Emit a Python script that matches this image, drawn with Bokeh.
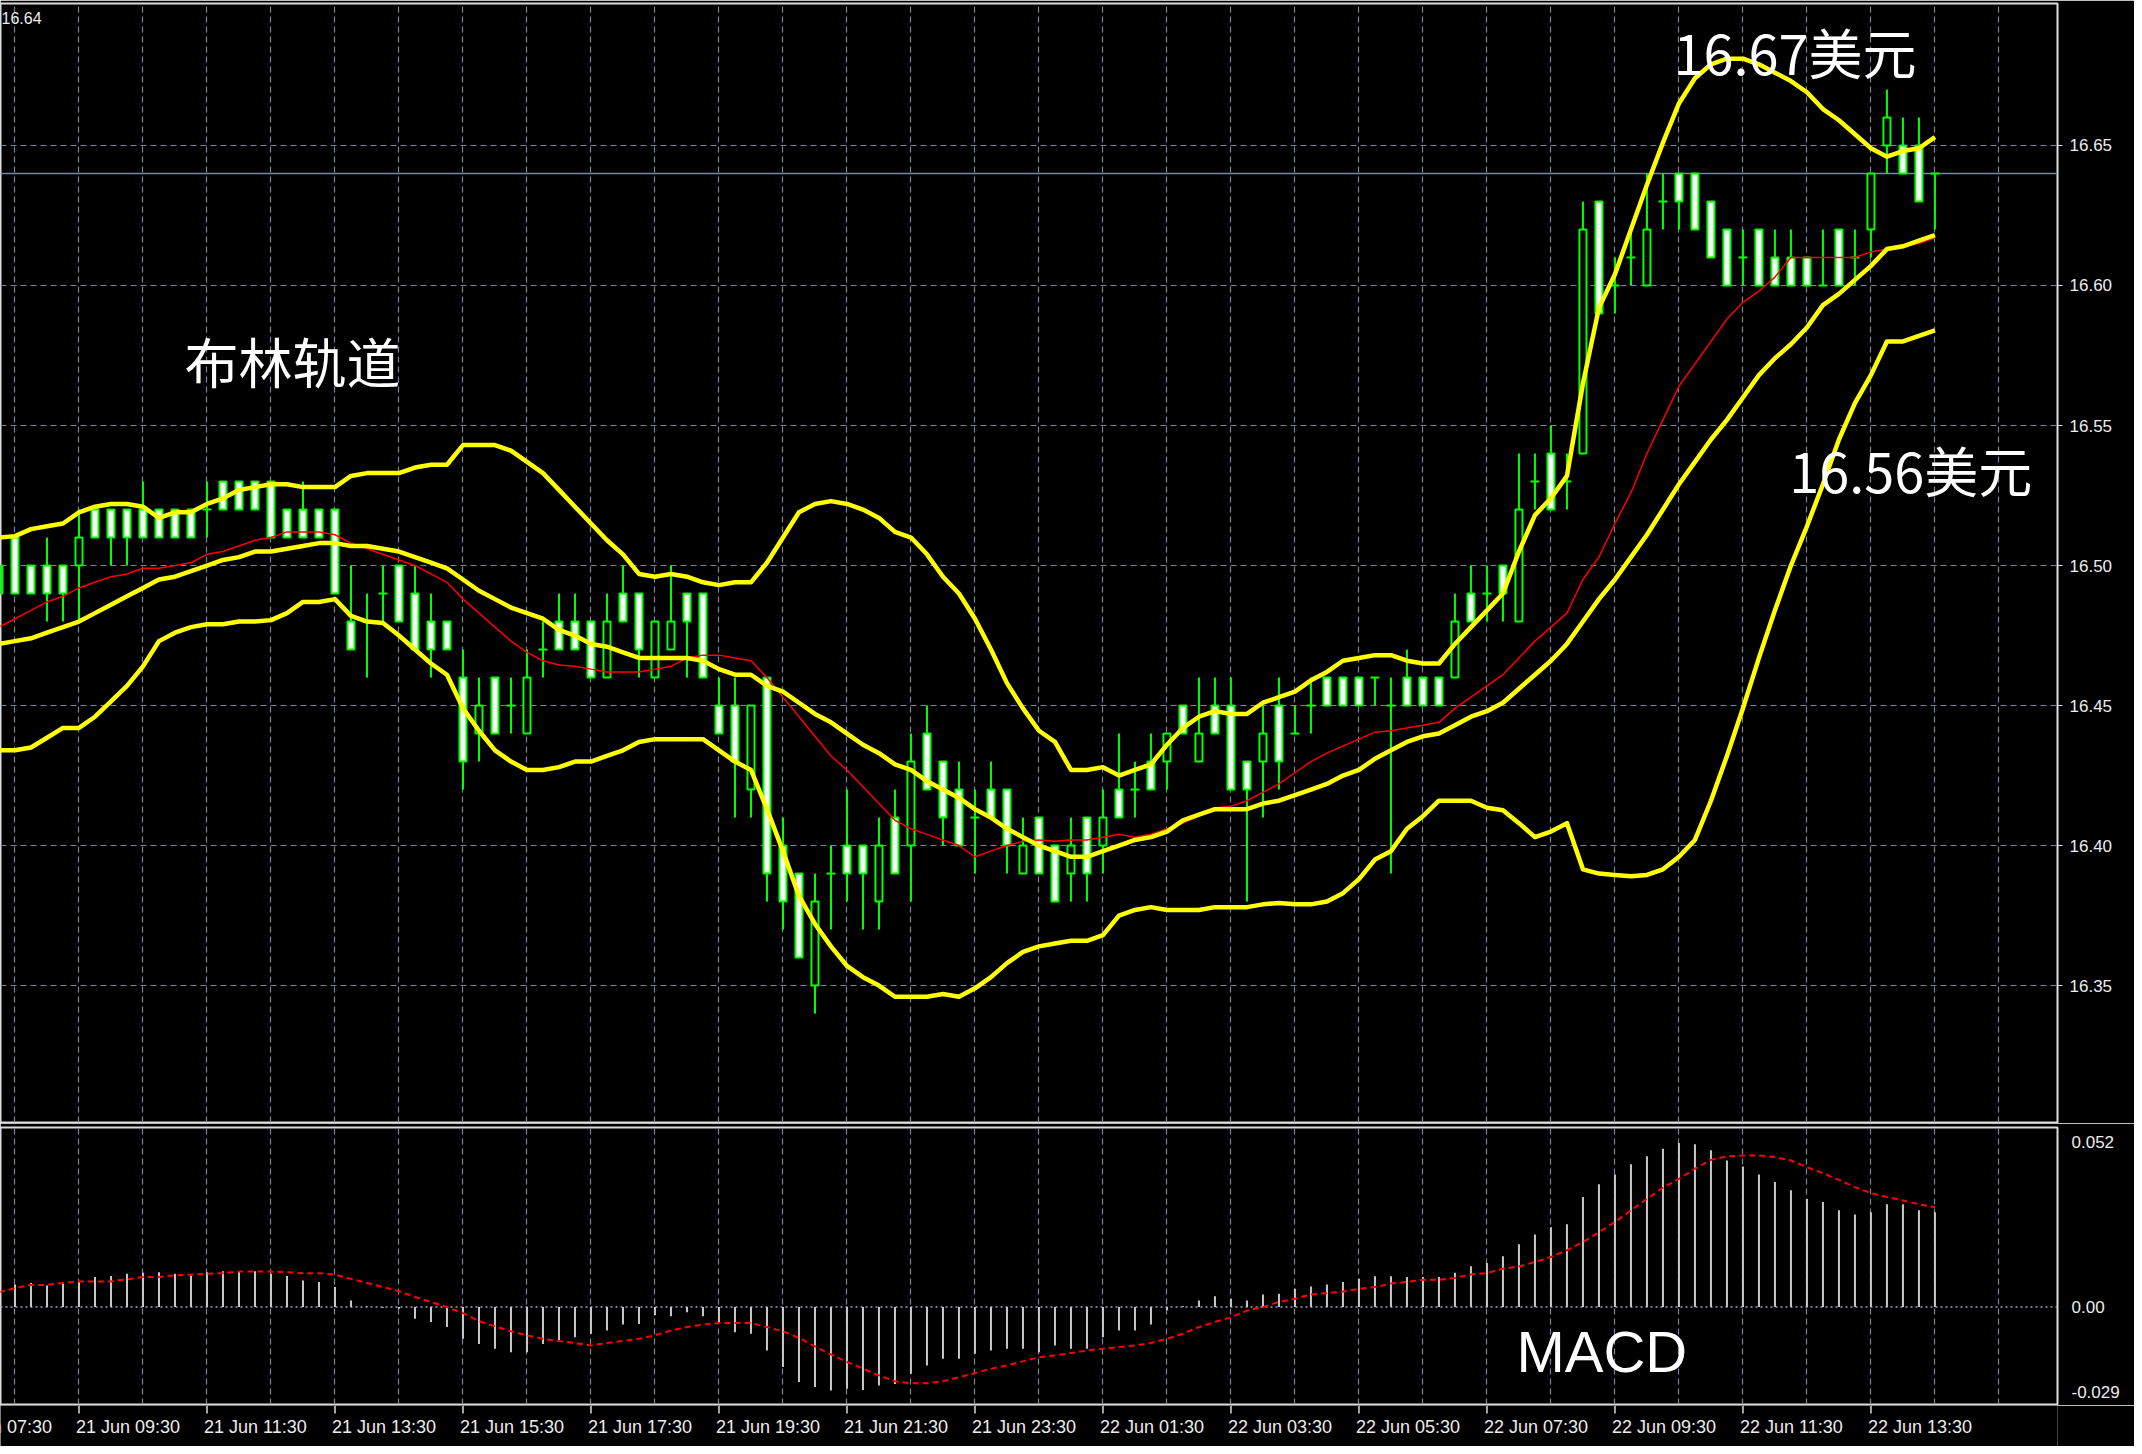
from bokeh.plotting import figure
from bokeh.layouts import column
from bokeh.models import (FixedTicker, Label, Range1d, Span, Grid,
                          PrintfTickFormatter)
from bokeh.core.properties import value
from bokeh.embed import file_html
from bokeh.resources import INLINE

# ---------------- data (15-minute bars, index 0 = 21 Jun 09:30) ----------------
FIRST_BAR = -5

opens = [16.49, 16.51, 16.50, 16.50, 16.50, 16.50, 16.52, 16.52, 16.52, 16.52,
         16.52, 16.52, 16.52, 16.52, 16.53, 16.53, 16.53, 16.53, 16.52, 16.52,
         16.52, 16.52, 16.48, 16.48, 16.49, 16.50, 16.49, 16.48, 16.48, 16.46,
         16.44, 16.46, 16.45, 16.44, 16.47, 16.48, 16.48, 16.48, 16.46, 16.49,
         16.49, 16.46, 16.47, 16.49, 16.49, 16.45, 16.45, 16.42, 16.46, 16.40,
         16.39, 16.35, 16.39, 16.40, 16.40, 16.38, 16.41, 16.40, 16.44, 16.43,
         16.42, 16.41, 16.42, 16.42, 16.39, 16.41, 16.40, 16.39, 16.41, 16.40,
         16.42, 16.42, 16.43, 16.43, 16.45, 16.43, 16.45, 16.45, 16.43, 16.43,
         16.45, 16.44, 16.45, 16.46, 16.46, 16.46, 16.46, 16.45, 16.46, 16.46,
         16.46, 16.46, 16.49, 16.49, 16.50, 16.48, 16.53, 16.54, 16.53, 16.54,
         16.63, 16.60, 16.61, 16.60, 16.63, 16.64, 16.64, 16.63, 16.62, 16.61,
         16.62, 16.61, 16.61, 16.61, 16.60, 16.62, 16.61, 16.62, 16.65, 16.65,
         16.65, 16.64]
highs = [16.50, 16.51, 16.50, 16.51, 16.50, 16.52, 16.52, 16.52, 16.52, 16.53,
         16.52, 16.52, 16.52, 16.53, 16.53, 16.53, 16.53, 16.53, 16.52, 16.53,
         16.52, 16.52, 16.50, 16.49, 16.50, 16.50, 16.50, 16.49, 16.48, 16.47,
         16.46, 16.46, 16.46, 16.47, 16.48, 16.49, 16.49, 16.48, 16.49, 16.50,
         16.49, 16.48, 16.50, 16.49, 16.49, 16.46, 16.46, 16.45, 16.46, 16.41,
         16.39, 16.39, 16.40, 16.42, 16.40, 16.41, 16.42, 16.44, 16.45, 16.43,
         16.43, 16.42, 16.43, 16.42, 16.41, 16.41, 16.40, 16.41, 16.41, 16.42,
         16.44, 16.43, 16.44, 16.44, 16.45, 16.46, 16.46, 16.46, 16.43, 16.45,
         16.46, 16.45, 16.46, 16.46, 16.46, 16.46, 16.46, 16.46, 16.47, 16.46,
         16.46, 16.49, 16.50, 16.50, 16.50, 16.54, 16.54, 16.55, 16.54, 16.63,
         16.63, 16.61, 16.62, 16.64, 16.64, 16.64, 16.64, 16.63, 16.62, 16.62,
         16.62, 16.62, 16.62, 16.61, 16.62, 16.62, 16.62, 16.64, 16.67, 16.66,
         16.66, 16.64]
lows = [16.48, 16.49, 16.49, 16.48, 16.48, 16.48, 16.51, 16.50, 16.50, 16.51,
        16.51, 16.51, 16.51, 16.51, 16.52, 16.52, 16.52, 16.51, 16.51, 16.51,
        16.51, 16.49, 16.47, 16.46, 16.48, 16.48, 16.47, 16.46, 16.47, 16.42,
        16.43, 16.44, 16.44, 16.44, 16.46, 16.47, 16.47, 16.46, 16.46, 16.48,
        16.46, 16.46, 16.47, 16.46, 16.46, 16.44, 16.41, 16.41, 16.38, 16.37,
        16.36, 16.34, 16.37, 16.38, 16.37, 16.37, 16.39, 16.38, 16.42, 16.40,
        16.40, 16.39, 16.41, 16.39, 16.39, 16.39, 16.38, 16.38, 16.38, 16.39,
        16.41, 16.41, 16.42, 16.42, 16.44, 16.43, 16.44, 16.42, 16.38, 16.41,
        16.42, 16.44, 16.44, 16.45, 16.45, 16.45, 16.45, 16.39, 16.45, 16.45,
        16.45, 16.46, 16.48, 16.48, 16.48, 16.48, 16.52, 16.52, 16.52, 16.54,
        16.59, 16.59, 16.60, 16.60, 16.62, 16.62, 16.62, 16.61, 16.60, 16.60,
        16.60, 16.60, 16.60, 16.60, 16.60, 16.60, 16.60, 16.61, 16.64, 16.64,
        16.63, 16.62]
closes = [16.50, 16.49, 16.49, 16.49, 16.49, 16.51, 16.51, 16.51, 16.51, 16.51,
          16.51, 16.51, 16.51, 16.52, 16.52, 16.52, 16.52, 16.51, 16.51, 16.51,
          16.51, 16.49, 16.47, 16.48, 16.49, 16.48, 16.47, 16.47, 16.47, 16.43,
          16.45, 16.44, 16.45, 16.46, 16.47, 16.47, 16.47, 16.46, 16.48, 16.48,
          16.47, 16.48, 16.48, 16.48, 16.46, 16.44, 16.43, 16.45, 16.39, 16.38,
          16.36, 16.38, 16.39, 16.39, 16.39, 16.40, 16.39, 16.43, 16.42, 16.41,
          16.40, 16.41, 16.41, 16.40, 16.40, 16.39, 16.38, 16.40, 16.39, 16.41,
          16.41, 16.42, 16.42, 16.44, 16.44, 16.44, 16.44, 16.42, 16.42, 16.44,
          16.43, 16.44, 16.45, 16.45, 16.45, 16.45, 16.46, 16.45, 16.45, 16.45,
          16.45, 16.48, 16.48, 16.49, 16.49, 16.52, 16.53, 16.52, 16.53, 16.62,
          16.59, 16.60, 16.61, 16.62, 16.63, 16.63, 16.62, 16.61, 16.60, 16.61,
          16.60, 16.60, 16.60, 16.60, 16.60, 16.60, 16.61, 16.64, 16.66, 16.64,
          16.63, 16.64]

bb_upper = [16.510, 16.5105, 16.513, 16.514, 16.515, 16.519, 16.521, 16.522, 16.522, 16.521,
            16.517, 16.519, 16.519, 16.522, 16.524, 16.527, 16.528, 16.529, 16.529, 16.528,
            16.528, 16.528, 16.532, 16.533, 16.533, 16.533, 16.535, 16.536, 16.536, 16.543,
            16.543, 16.543, 16.541, 16.537, 16.533, 16.527, 16.521, 16.515, 16.509, 16.504,
            16.497, 16.496, 16.497, 16.496, 16.494, 16.493, 16.494, 16.494, 16.501, 16.510,
            16.519, 16.522, 16.523, 16.522, 16.520, 16.517, 16.512, 16.510, 16.504, 16.496,
            16.490, 16.481, 16.470, 16.458, 16.449, 16.441, 16.437, 16.427, 16.427, 16.428,
            16.425, 16.427, 16.429, 16.436, 16.442, 16.446, 16.448, 16.447, 16.447, 16.451,
            16.453, 16.455, 16.459, 16.462, 16.466, 16.467, 16.468, 16.468, 16.466, 16.465,
            16.465, 16.472, 16.478, 16.484, 16.490, 16.505, 16.518, 16.524, 16.532, 16.565,
            16.592, 16.604, 16.620, 16.636, 16.651, 16.665, 16.674, 16.679, 16.681, 16.681,
            16.679, 16.676, 16.673, 16.669, 16.663, 16.659, 16.654, 16.649, 16.646, 16.648,
            16.649, 16.653]
bb_middle = [16.472, 16.473, 16.474, 16.476, 16.478, 16.480, 16.483, 16.486, 16.489, 16.492,
             16.495, 16.496, 16.498, 16.500, 16.502, 16.503, 16.505, 16.505, 16.506, 16.507,
             16.508, 16.508, 16.507, 16.507, 16.506, 16.505, 16.503, 16.501, 16.499, 16.495,
             16.491, 16.488, 16.485, 16.483, 16.481, 16.477, 16.475, 16.472, 16.471, 16.469,
             16.467, 16.467, 16.467, 16.467, 16.466, 16.463, 16.461, 16.461, 16.457, 16.455,
             16.451, 16.447, 16.444, 16.440, 16.436, 16.433, 16.429, 16.427, 16.423, 16.420,
             16.417, 16.413, 16.410, 16.406, 16.403, 16.400, 16.398, 16.396, 16.396, 16.398,
             16.400, 16.402, 16.403, 16.405, 16.409, 16.411, 16.413, 16.413, 16.413, 16.415,
             16.416, 16.418, 16.420, 16.422, 16.425, 16.427, 16.431, 16.434, 16.437, 16.439,
             16.440, 16.443, 16.446, 16.448, 16.451, 16.456, 16.461, 16.466, 16.472, 16.480,
             16.488, 16.495, 16.503, 16.511, 16.520, 16.529, 16.537, 16.545, 16.552, 16.560,
             16.568, 16.574, 16.579, 16.585, 16.593, 16.597, 16.602, 16.607, 16.613, 16.614,
             16.616, 16.618]
bb_lower = [16.434, 16.434, 16.435, 16.4385, 16.442, 16.442, 16.446, 16.4515, 16.457, 16.464,
            16.473, 16.476, 16.478, 16.479, 16.479, 16.480, 16.480, 16.4805, 16.483, 16.487,
            16.487, 16.488, 16.482, 16.480, 16.4795, 16.475, 16.470, 16.465, 16.461, 16.449,
            16.441, 16.434, 16.430, 16.427, 16.427, 16.428, 16.430, 16.430, 16.432, 16.434,
            16.437, 16.438, 16.438, 16.438, 16.438, 16.434, 16.430, 16.427, 16.413, 16.398,
            16.382, 16.372, 16.364, 16.357, 16.353, 16.350, 16.346, 16.346, 16.346, 16.347,
            16.346, 16.349, 16.353, 16.358, 16.362, 16.364, 16.365, 16.366, 16.366, 16.368,
            16.375, 16.377, 16.378, 16.377, 16.377, 16.377, 16.378, 16.378, 16.378, 16.379,
            16.3795, 16.379, 16.379, 16.380, 16.383, 16.388, 16.395, 16.398, 16.406, 16.4105,
            16.416, 16.416, 16.416, 16.4135, 16.4126, 16.408, 16.403, 16.405, 16.408, 16.3915,
            16.390, 16.3895, 16.389, 16.3895, 16.3915, 16.396, 16.402, 16.416, 16.432, 16.449,
            16.467, 16.484, 16.500, 16.514, 16.529, 16.545, 16.558, 16.568, 16.580, 16.580,
            16.582, 16.584]
ma_red = [16.478, 16.481, 16.484, 16.487, 16.489, 16.492, 16.494, 16.496, 16.497, 16.499,
          16.499, 16.500, 16.501, 16.504, 16.505, 16.507, 16.509, 16.510, 16.512, 16.512,
          16.512, 16.511, 16.508, 16.506, 16.504, 16.502, 16.500, 16.497, 16.494, 16.488,
          16.483, 16.478, 16.473, 16.469, 16.466, 16.4645, 16.464, 16.463, 16.462, 16.462,
          16.462, 16.463, 16.464, 16.467, 16.468, 16.468, 16.467, 16.466, 16.460, 16.453,
          16.446, 16.439, 16.432, 16.427, 16.421, 16.415, 16.409, 16.406, 16.404, 16.402,
          16.400, 16.396, 16.398, 16.400, 16.4015, 16.402, 16.4015, 16.402, 16.402, 16.403,
          16.404, 16.403, 16.404, 16.406, 16.408, 16.4105, 16.4135, 16.414, 16.416, 16.419,
          16.422, 16.426, 16.430, 16.433, 16.4355, 16.438, 16.4405, 16.441, 16.442, 16.443,
          16.444, 16.449, 16.453, 16.457, 16.461, 16.467, 16.473, 16.478, 16.483, 16.495,
          16.503, 16.515, 16.526, 16.540, 16.552, 16.564, 16.572, 16.580, 16.588, 16.594,
          16.598, 16.603, 16.610, 16.610, 16.610, 16.610, 16.610, 16.612, 16.613, 16.614,
          16.615, 16.617]

macd_hist = [0.0074, 0.0071, 0.0076, 0.0068, 0.0076, 0.0081, 0.0095, 0.0098, 0.0105, 0.0108,
             0.0110, 0.0105, 0.0100, 0.0110, 0.0113, 0.0113, 0.0113, 0.0105, 0.0098, 0.0084,
             0.0079, 0.0063, 0.0021, 0.0002, -0.0002, -0.0005, -0.0037, -0.0047, -0.0063, -0.0100,
             -0.0116, -0.0131, -0.0142, -0.0142, -0.0116, -0.0105, -0.0095, -0.0084, -0.0074, -0.0055,
             -0.0053, -0.0026, -0.0029, -0.0016, -0.0029, -0.0047, -0.0079, -0.0084, -0.0137, -0.0189,
             -0.0236, -0.0252, -0.0263, -0.0257, -0.0261, -0.0247, -0.0242, -0.0210, -0.0184, -0.0163,
             -0.0163, -0.0147, -0.0137, -0.0131, -0.0131, -0.0142, -0.0121, -0.0131, -0.0131, -0.0095,
             -0.0074, -0.0074, -0.0055, -0.0010, 0.0003, 0.0021, 0.0034, 0.0026, 0.0021, 0.0040,
             0.0042, 0.0058, 0.0065, 0.0071, 0.0079, 0.0089, 0.0097, 0.0097, 0.0095, 0.0095,
             0.0095, 0.0108, 0.0129, 0.0139, 0.0160, 0.0198, 0.0229, 0.0252, 0.0261, 0.0347,
             0.0387, 0.0418, 0.0450, 0.0475, 0.0499, 0.0517, 0.0513, 0.0494, 0.0462, 0.0443,
             0.0418, 0.0394, 0.0368, 0.0341, 0.0331, 0.0305, 0.0292, 0.0299, 0.0324, 0.0324,
             0.0305, 0.0299]
macd_signal = [0.0047, 0.0060, 0.0070, 0.0070, 0.0076, 0.0081, 0.0081, 0.0081, 0.0087, 0.0095,
               0.0095, 0.0100, 0.0102, 0.0105, 0.0107, 0.0112, 0.0112, 0.0112, 0.0110, 0.0107,
               0.0107, 0.0102, 0.0089, 0.0076, 0.0063, 0.0050, 0.0032, 0.0016, 0.0000, -0.0019,
               -0.0044, -0.0061, -0.0076, -0.0089, -0.0100, -0.0107, -0.0113, -0.0121, -0.0113, -0.0107,
               -0.0100, -0.0089, -0.0074, -0.0063, -0.0055, -0.0050, -0.0050, -0.0050, -0.0063, -0.0076,
               -0.0097, -0.0124, -0.0149, -0.0173, -0.0194, -0.0215, -0.0234, -0.0240, -0.0240, -0.0234,
               -0.0221, -0.0208, -0.0194, -0.0184, -0.0171, -0.0158, -0.0152, -0.0145, -0.0137, -0.0131,
               -0.0126, -0.0121, -0.0113, -0.0100, -0.0084, -0.0063, -0.0047, -0.0032, -0.0011, 0.0000,
               0.0016, 0.0026, 0.0040, 0.0044, 0.0049, 0.0057, 0.0063, 0.0074, 0.0079, 0.0086,
               0.0086, 0.0092, 0.0103, 0.0107, 0.0121, 0.0128, 0.0142, 0.0158, 0.0179, 0.0205,
               0.0236, 0.0268, 0.0305, 0.0341, 0.0376, 0.0404, 0.0436, 0.0464, 0.0475, 0.0478,
               0.0478, 0.0473, 0.0462, 0.0441, 0.0422, 0.0401, 0.0378, 0.0359, 0.0347, 0.0336,
               0.0324, 0.0315]

price_ticks = [16.35, 16.40, 16.45, 16.50, 16.55, 16.60, 16.65]
current_price = 16.64
time_tick_bars = [-8, 0, 8, 16, 24, 32, 40, 48, 56, 64, 72, 80, 88, 96, 104, 112]
time_labels = ["21 Jun 07:30", "21 Jun 09:30", "21 Jun 11:30", "21 Jun 13:30",
               "21 Jun 15:30", "21 Jun 17:30", "21 Jun 19:30", "21 Jun 21:30",
               "21 Jun 23:30", "22 Jun 01:30", "22 Jun 03:30", "22 Jun 05:30",
               "22 Jun 07:30", "22 Jun 09:30", "22 Jun 11:30", "22 Jun 13:30"]
macd_ticks = [0.052, 0.0, -0.0268]
macd_tick_labels = ["0.052", "0.00", "-0.029"]

# ---------------- styling ----------------
GRID = "#778899"
EDGE = "#dcdcdc"
TXT = "#ececec"
LIME = "#00ff00"
YELLOW = "#ffff00"
AXFONT = "Liberation Sans"
CJK = "Noto Sans CJK SC"

idx = list(range(FIRST_BAR, FIRST_BAR + len(opens)))
X_RANGE = Range1d(-4.906, 123.66)
MACD_RANGE = Range1d(-0.0307, 0.0566)
hour_grid = list(range(-4, 124, 4))

p = figure(width=2134, height=1123, x_range=X_RANGE, y_range=Range1d(16.3011, 16.7007),
           output_backend="svg", toolbar_location=None, x_axis_location=None,
           y_axis_location="right", background_fill_color="black",
           border_fill_color="black", min_border_left=0, min_border_top=3,
           min_border_bottom=1, min_border_right=77)
p.outline_line_color = EDGE
p.outline_line_width = 2
p.grid.visible = False
p.add_layout(Grid(dimension=0, ticker=FixedTicker(ticks=hour_grid), grid_line_color=GRID,
                  grid_line_dash="6 4", grid_line_width=1.2), "center")
p.add_layout(Grid(dimension=1, ticker=FixedTicker(ticks=price_ticks), grid_line_color=GRID,
                  grid_line_dash="6 4", grid_line_width=1.2), "center")

ya = p.yaxis[0]
ya.ticker = FixedTicker(ticks=price_ticks)
ya.formatter = PrintfTickFormatter(format="%.2f")
ya.axis_line_color = None
ya.major_tick_line_color = EDGE
ya.major_tick_out = 5
ya.major_tick_in = 0
ya.minor_tick_line_color = None
ya.major_label_text_color = TXT
ya.major_label_text_font = AXFONT
ya.major_label_text_font_size = "17px"
ya.major_label_standoff = 7

p.add_layout(Span(location=current_price, dimension="width", line_color=GRID,
                  line_width=1.5, level="underlay"))

# candles
p.segment(x0=idx, y0=lows, x1=idx, y1=highs, line_color=LIME, line_width=2)
bull = [k for k in range(len(idx)) if closes[k] > opens[k]]
bear = [k for k in range(len(idx)) if closes[k] < opens[k]]
doji = [k for k in range(len(idx)) if closes[k] == opens[k]]
p.vbar(x=[idx[k] for k in bull], width=0.44, top=[closes[k] for k in bull],
       bottom=[opens[k] for k in bull], fill_color="black", line_color=LIME, line_width=2)
p.vbar(x=[idx[k] for k in bear], width=0.44, top=[opens[k] for k in bear],
       bottom=[closes[k] for k in bear], fill_color="white", line_color=LIME, line_width=2)
p.segment(x0=[idx[k] - 0.28 for k in doji], y0=[opens[k] for k in doji],
          x1=[idx[k] + 0.28 for k in doji], y1=[closes[k] for k in doji],
          line_color=LIME, line_width=2)

# indicators
p.line(idx, ma_red, line_color="#ff0000", line_width=1.5)
for band in (bb_upper, bb_middle, bb_lower):
    p.line(idx, band, line_color=YELLOW, line_width=4.5, line_join="round")

# annotations
p.add_layout(Label(x=124.0, y=current_price, text="16.64", text_color="black",
                   background_fill_color="white", text_font=AXFONT,
                   text_font_size="17px", text_baseline="middle", padding=3))
p.add_layout(Label(x=-4.84, y=16.6975, text="16.64", text_color=TXT, text_font=AXFONT,
                   text_font_size="16px", text_baseline="top"))
p.add_layout(Label(x=6.59, y=16.5732, text="布林轨道", text_color="white", text_font=CJK,
                   text_font_size="54px", text_baseline="middle"))
p.add_layout(Label(x=99.66, y=16.6836, text="16.67美元", text_color="white", text_font=CJK,
                   text_font_size="54px", text_baseline="middle"))
p.add_layout(Label(x=106.9, y=16.5343, text="16.56美元", text_color="white", text_font=CJK,
                   text_font_size="54px", text_baseline="middle"))

# ---------------- MACD panel ----------------
q = figure(width=2134, height=282, x_range=X_RANGE, y_range=MACD_RANGE,
           output_backend="svg", toolbar_location=None, y_axis_location="right",
           x_axis_location=None,
           background_fill_color="black", border_fill_color="black",
           min_border_left=0, min_border_top=4, min_border_bottom=1, min_border_right=77)
q.outline_line_color = EDGE
q.outline_line_width = 2
q.grid.visible = False
q.add_layout(Grid(dimension=0, ticker=FixedTicker(ticks=hour_grid), grid_line_color=GRID,
                  grid_line_dash="6 4", grid_line_width=1.2), "center")
q.add_layout(Span(location=0, dimension="width", line_color="#9aa6b2",
                  line_dash="2 3", line_width=1.5, level="underlay"))

q.segment(x0=idx, y0=[0] * len(idx), x1=idx, y1=macd_hist, line_color="#c8c8c8", line_width=2)
q.line(idx, macd_signal, line_color="#ff0000", line_width=2, line_dash="6 4")

qa = q.yaxis[0]
qa.ticker = FixedTicker(ticks=macd_ticks)
qa.major_label_overrides = {t: s for t, s in zip(macd_ticks, macd_tick_labels)}
qa.axis_line_color = None
qa.major_tick_line_color = None
qa.minor_tick_line_color = None
qa.major_label_text_color = TXT
qa.major_label_text_font = AXFONT
qa.major_label_text_font_size = "17px"
qa.major_label_standoff = 8

q.add_layout(Label(x=89.84, y=-0.01396, text="MACD", text_color="white", text_font=AXFONT,
                   text_font_size="58px", text_baseline="middle"))

# ---------------- time scale strip (terminal style: labels start at their tick) ----------------
STRIP_H = 41
t_axis = figure(width=2134, height=STRIP_H, x_range=X_RANGE, y_range=Range1d(0, STRIP_H),
                output_backend="svg", toolbar_location=None, x_axis_location=None,
                y_axis_location=None, background_fill_color="black",
                border_fill_color="black", min_border_left=0, min_border_top=0,
                min_border_bottom=0, min_border_right=77)
t_axis.outline_line_color = None
t_axis.grid.visible = False
t_axis.segment(x0=time_tick_bars, y0=[STRIP_H] * len(time_tick_bars),
               x1=time_tick_bars, y1=[STRIP_H - 8] * len(time_tick_bars),
               line_color=EDGE, line_width=1.5)
t_axis.text(x=time_tick_bars, y=[STRIP_H - 11] * len(time_tick_bars), text=time_labels,
            text_color=TXT, text_font=value(AXFONT), text_font_size="18px",
            text_align="left", text_baseline="top", x_offset=-3)

layout = column(p, q, t_axis, spacing=0)
html = file_html(layout, INLINE)
html = html.replace("<body>", '<body style="background-color:#000000;">', 1)
open("out.html", "w").write(html)
